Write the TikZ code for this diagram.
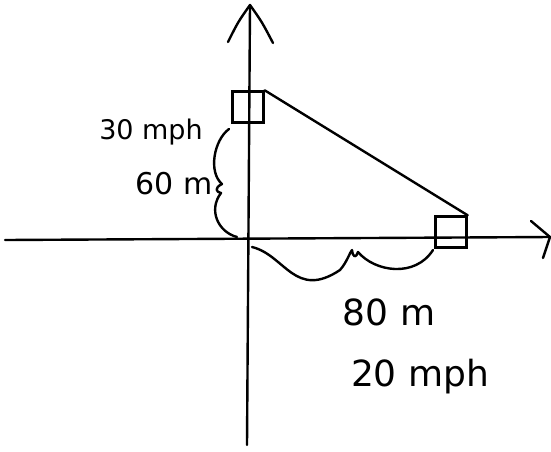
\documentclass[tikz,border=0pt]{standalone}
\usepackage{fontspec}
\setmainfont{DejaVu Sans}
\begin{document}
\begin{tikzpicture}[x=1pt,y=-1pt,
  ink/.style={line width=2.4pt,line cap=round,line join=round},
  car/.style={draw,line width=2.4pt,minimum width=31pt,minimum height=31pt,inner sep=0pt},
  lbla/.style={font=\fontsize{27}{29}\selectfont,inner sep=0pt},
  lblc/.style={font=\fontsize{30}{32}\selectfont,inner sep=0pt},
  lblb/.style={font=\fontsize{36}{38}\selectfont,inner sep=0pt}]
\useasboundingbox (0,0) rectangle (551,451);
% axes
\coordinate (ytop) at (250,5);
\coordinate (ybot) at (247,445);
\coordinate (xl) at (5,240);
\coordinate (xr) at (550,237);
\coordinate (yal) at (228,42);
\coordinate (yar) at (273,43);
\coordinate (xau) at (531,221);
\coordinate (xad) at (543,258);
\draw[ink] (ybot) -- (ytop);
\draw[ink] (yal) .. controls (238,22) .. (ytop) .. controls (262,22) .. (yar);
\draw[ink] (xl) -- (xr);
\draw[ink] (xau) -- (xr) -- (xad);
% cars
\node[car] (A) at (248,107) {};
\node[car] (B) at (451,232) {};
\draw[ink] (A.north east) -- (B.north east);
% left brace
\coordinate (lb1) at (229,129);
\coordinate (lb2) at (237,237);
\draw[ink] (lb1) .. controls (214,140) and (208,172) .. (222,184)
  .. controls (214,188) and (216,192) .. (221,193)
  .. controls (208,210) and (218,232) .. (lb2);
% bottom brace
\coordinate (bb1) at (252,247);
\coordinate (bb2) at (433,250);
\draw[ink] (bb1) .. controls (285,255) and (295,300) .. (340,270)
  .. controls (347,262) and (350,252) .. (352,250)
  .. controls (353,258) and (356,258) .. (358,252)
  .. controls (375,272) and (415,278) .. (bb2);
% labels
\node[lbla] (t1) at (151,132) {30 mph};
\node[lblc] (t2) at (174,184) {60 m};
\node[lblb] (t3) at (389,312) {80 m};
\node[lblb] (t4) at (420,377) {20 mph};
\end{tikzpicture}
\end{document}
